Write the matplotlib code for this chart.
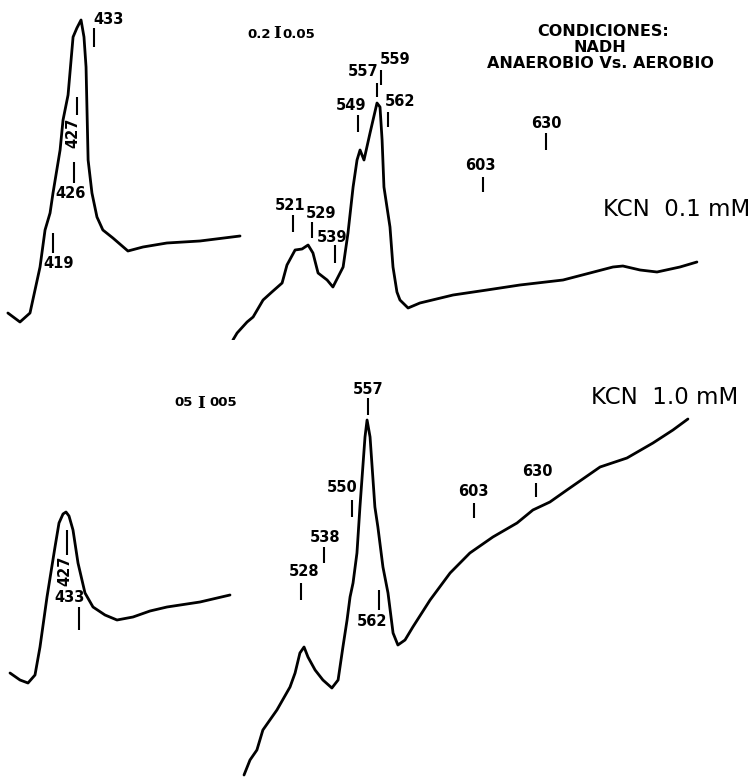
import matplotlib.pyplot as plt

# Espectros diferencia (anaerobio - aerobio) con NADH, dos concentraciones de KCN
# Banda de Soret, KCN 0.1 mM
soret_01_nm = [403.7, 407.8, 411.2, 414.6, 416.3, 418.0, 419.0, 421.4, 422.4, 424.1,
               425.8, 427.1, 428.5, 429.5, 430.2, 430.9, 432.2, 433.9, 435.9, 439.3,
               444.4, 449.5, 457.6, 468.8, 482.4]
soret_01_abs = [0.027, 0.018, 0.027, 0.073, 0.110, 0.127, 0.147, 0.190, 0.220, 0.245,
                0.303, 0.312, 0.320, 0.303, 0.273, 0.180, 0.147, 0.123, 0.110, 0.102,
                0.089, 0.093, 0.097, 0.099, 0.104]

# Region visible, KCN 0.1 mM
vis_01_nm = [495.1, 496.9, 501.2, 503.8, 508.1, 511.9, 516.3, 518.4, 521.9, 524.9,
             527.5, 529.6, 531.8, 535.7, 538.2, 542.6, 544.7, 546.9, 548.6, 549.9,
             551.6, 554.2, 557.2, 558.5, 559.4, 560.2, 562.8, 564.1, 565.8, 567.1,
             570.6, 575.7, 590.0, 604.6, 618.8, 637.4, 649.0, 658.9, 663.2, 670.6,
             677.9, 687.8, 695.1]
vis_01_abs = [0.000, 0.007, 0.018, 0.023, 0.040, 0.048, 0.057, 0.075, 0.090, 0.091,
              0.095, 0.087, 0.067, 0.060, 0.053, 0.073, 0.107, 0.153, 0.180, 0.190,
              0.180, 0.207, 0.237, 0.233, 0.200, 0.153, 0.113, 0.073, 0.048, 0.040,
              0.032, 0.037, 0.045, 0.050, 0.055, 0.060, 0.067, 0.073, 0.074, 0.070,
              0.068, 0.073, 0.078]

# Banda de Soret, KCN 1.0 mM
soret_10_nm = [398.5, 403.5, 407.5, 411.0, 413.5, 417.0, 421.0, 423.0, 425.0, 426.5,
               428.0, 430.0, 432.5, 436.0, 440.0, 446.0, 452.0, 460.0, 468.5, 477.0,
               493.5, 508.5]
soret_10_abs = [0.108, 0.101, 0.098, 0.106, 0.134, 0.184, 0.234, 0.258, 0.267, 0.269,
                0.265, 0.251, 0.218, 0.188, 0.174, 0.166, 0.161, 0.164, 0.170, 0.174,
                0.179, 0.186]

# Region visible, KCN 1.0 mM
vis_10_nm = [503.1, 505.7, 508.7, 511.3, 517.4, 523.1, 525.3, 527.4, 529.2, 530.9,
             534.0, 537.4, 541.3, 544.0, 546.1, 547.9, 549.2, 550.5, 552.2, 553.5,
             555.7, 556.6, 557.9, 560.0, 561.3, 563.5, 565.7, 567.9, 570.0, 573.1,
             576.5, 584.0, 592.7, 601.3, 611.3, 621.8, 628.7, 636.1, 643.5, 657.9,
             669.6, 680.9, 689.6, 696.1]
vis_10_abs = [0.006, 0.021, 0.031, 0.051, 0.071, 0.094, 0.108, 0.128, 0.134, 0.124,
              0.111, 0.101, 0.093, 0.101, 0.134, 0.161, 0.184, 0.198, 0.228, 0.274,
              0.344, 0.361, 0.344, 0.274, 0.254, 0.214, 0.188, 0.148, 0.136, 0.141,
              0.154, 0.181, 0.208, 0.228, 0.244, 0.258, 0.271, 0.279, 0.291, 0.314,
              0.323, 0.338, 0.351, 0.362]

# Marcas de longitud de onda (nm) y extremos verticales de cada marca
soret_01_marks = [433, 427, 426, 419]
soret_01_mark_lo = [0.293, 0.225, 0.157, 0.087]
soret_01_mark_hi = [0.312, 0.243, 0.178, 0.107]

vis_01_marks = [521, 529, 539, 549, 557, 559, 562, 603, 630]
vis_01_mark_lo = [0.108, 0.102, 0.077, 0.208, 0.243, 0.255, 0.213, 0.148, 0.190]
vis_01_mark_hi = [0.125, 0.118, 0.095, 0.225, 0.257, 0.270, 0.228, 0.163, 0.207]

soret_10_marks = [427, 433]
soret_10_mark_lo = [0.226, 0.151]
soret_10_mark_hi = [0.251, 0.174]

vis_10_marks = [528, 538, 550, 557, 562, 603, 630]
vis_10_mark_lo = [0.181, 0.218, 0.264, 0.366, 0.171, 0.263, 0.284]
vis_10_mark_hi = [0.198, 0.234, 0.281, 0.383, 0.191, 0.278, 0.298]

W, H = 754, 781
fig = plt.figure(figsize=(W / 100, H / 100), dpi=100)
plt.rcParams['font.family'] = 'DejaVu Sans'


def panel(x0, y0, x1, y1, xlim, ylim):
    # rectangulo en pixeles de la figura (origen arriba a la izquierda)
    ax = fig.add_axes([x0 / W, 1 - y1 / H, (x1 - x0) / W, (y1 - y0) / H])
    ax.set_xlim(*xlim)
    ax.set_ylim(*ylim)
    ax.axis('off')
    ax.patch.set_alpha(0)
    return ax


def marks(ax, nm, lo, hi, offsets, rot=None):
    ax.vlines(nm, lo, hi, color='black', lw=1.5)
    for i, w in enumerate(nm):
        dx, dy, base = offsets[i]
        y = hi[i] if base == 'top' else lo[i]
        r = rot[i] if rot else 0
        ax.annotate(str(w), xy=(w, y), xytext=(dx * 0.72, dy * 0.72),
                    textcoords='offset points', ha='center', va='center',
                    fontsize=10.5, fontweight='bold', rotation=r)


line_kw = dict(color='black', lw=2.0, solid_joinstyle='round', solid_capstyle='round')

ax1 = panel(0, 0, 250, 340, (401.03, 485.78), (0, 0.34))
ax1.plot(soret_01_nm, soret_01_abs, **line_kw)
marks(ax1, soret_01_marks, soret_01_mark_lo, soret_01_mark_hi,
      [(14, 8, 'top'), (-4, -18, 'lo'), (-3, -11, 'lo'), (6, -11, 'lo')],
      rot=[0, 90, 0, 0])

ax2 = panel(220, 0, 754, 340, (489.53, 719.71), (0, 0.34))
ax2.plot(vis_01_nm, vis_01_abs, **line_kw)
marks(ax2, vis_01_marks, vis_01_mark_lo, vis_01_mark_hi,
      [(-3, 9, 'top'), (9, 9, 'top'), (-3, 7, 'top'), (-7, 9, 'top'), (-13, 11, 'top'),
       (14, 11, 'top'), (12, 10, 'top'), (-3, 11, 'top'), (0, 10, 'top')])

ax3 = panel(0, 370, 250, 781, (393.5, 518.5), (0, 0.411))
ax3.plot(soret_10_nm, soret_10_abs, **line_kw)
marks(ax3, soret_10_marks, soret_10_mark_lo, soret_10_mark_hi,
      [(-2, -16, 'lo'), (-9, 10, 'top')], rot=[90, 0])

ax4 = panel(225, 370, 754, 781, (494.83, 724.83), (0, 0.411))
ax4.plot(vis_10_nm, vis_10_abs, **line_kw)
marks(ax4, vis_10_marks, vis_10_mark_lo, vis_10_mark_hi,
      [(3, 11, 'top'), (1, 10, 'top'), (-10, 13, 'top'), (0, 9, 'top'), (-7, -11, 'lo'),
       (0, 12, 'top'), (1, 11, 'top')])


def ftext(x, y, s, **kw):
    fig.text(x / W, 1 - y / H, s, ha='center', va='center', **kw)


# escalas de absorbancia
ftext(259, 34, '0.2', fontsize=9.5, fontweight='bold')
ftext(277, 34, 'I', fontsize=12, family='DejaVu Serif', fontweight='bold')
ftext(299, 34, '0.05', fontsize=9.5, fontweight='bold')
ftext(184, 403, '05', fontsize=9.5, fontweight='bold')
ftext(201, 403, 'I', fontsize=12, family='DejaVu Serif', fontweight='bold')
ftext(223, 403, '005', fontsize=9.5, fontweight='bold')

ftext(603, 31, 'CONDICIONES:', fontsize=11.5, fontweight='bold')
ftext(600, 48, 'NADH', fontsize=11.5, fontweight='bold')
ftext(600, 64, 'ANAEROBIO Vs. AEROBIO', fontsize=11.5, fontweight='bold')

fig.text(750 / W, 1 - 209 / H, 'KCN  0.1 mM', ha='right', va='center', fontsize=16.5)
fig.text(738 / W, 1 - 397 / H, 'KCN  1.0 mM', ha='right', va='center', fontsize=16.5)

fig.savefig('out.png', dpi=100, facecolor='white')
